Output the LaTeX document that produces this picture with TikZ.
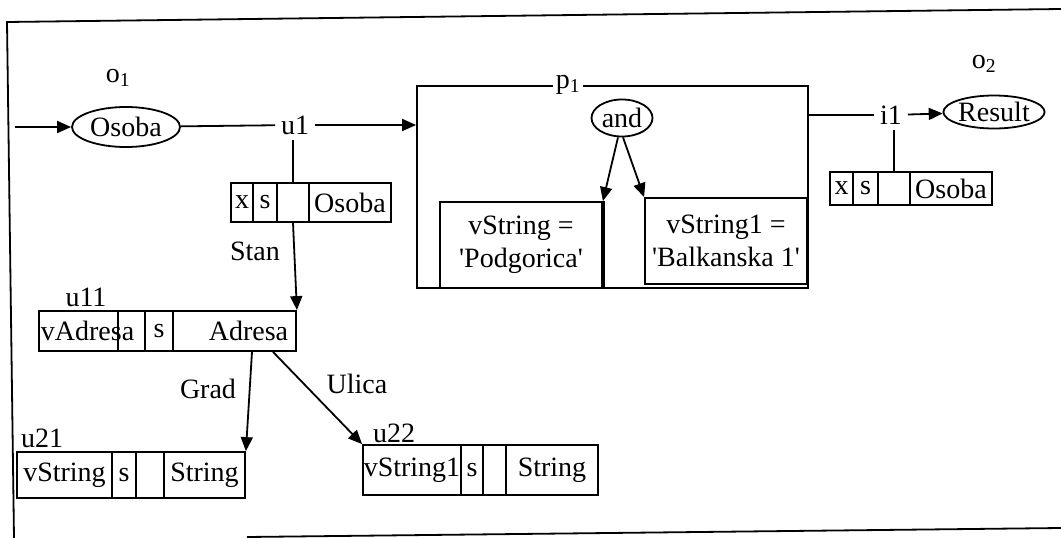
\documentclass[tikz,border=0pt]{standalone}
\usepackage{fontspec}
\setmainfont{Liberation Serif}
\usetikzlibrary{arrows.meta,shapes.geometric}
\begin{document}
\begin{tikzpicture}[x=1pt,y=-1pt,line width=1.8pt,
  font=\fontsize{28}{33}\selectfont,
  arr/.style={-{Triangle[length=14pt,width=12pt]}},
  cell/.style={draw,rectangle,inner sep=0pt},
  oval/.style={draw,ellipse,inner sep=0pt},
  lbl/.style={inner sep=3pt}]
\useasboundingbox (0,0) rectangle (1061,538);
% frame of the scan
\coordinate (fTL) at (7,22);
\coordinate (fTR) at (1061,9);
\coordinate (fBL) at (14,538);
\coordinate (fB1) at (247,537);
\coordinate (fB2) at (1061,528);
\draw (fTR) -- (fTL) -- (fBL);
\draw (fB1) -- (fB2);

% o1 and input
\node[lbl] (o1l) at (118,78) {o\textsubscript{1}};
\node[oval, minimum width=108, minimum height=40] (osoba) at (126,127) {Osoba};
\coordinate (in) at (15,127);
\draw[arr] (in) -- (osoba);
\node[lbl, inner sep=5pt] (u1l) at (295,125) {u1};
\draw (osoba) -- (u1l);

% p1
\node[cell, minimum width=391, minimum height=202] (p1) at (612.5,187) {};
\draw[arr] (u1l) -- (u1l -| p1.west);
\node[fill=white, inner sep=3pt] (p1l) at (568,85) {p\textsubscript{1}};
\node[oval, minimum width=61, minimum height=37] (andop) at (622,118) {and};
\node[cell, minimum width=162, minimum height=86, align=center] (b1) at (521,245)
  {vString =\\\textquotesingle Podgorica\textquotesingle};
\draw[line width=3.2pt] (b1.north east) -- (b1.south east);
\node[cell, minimum width=162, minimum height=86, align=center] (b2) at (726,241)
  {vString1 =\\\textquotesingle Balkanska 1\textquotesingle};
\draw[arr] ([xshift=-4pt]andop.south) -- (b1.north east);
\draw[arr] ([xshift=1pt]andop.south) -- (b2.north west);

% i1 and result
\node[lbl, inner sep=5pt] (i1l) at (891,115) {i1};
\draw (p1.east |- i1l) -- (i1l);
\node[oval, minimum width=98, minimum height=33] (res) at (994,112) {Result};
\draw[arr] (i1l) -- (res);
\node[lbl] (o2l) at (984,64) {o\textsubscript{2}};

\node[cell, minimum width=23, minimum height=33] (i1x) at (841.5,188.5) {x};
\node[cell, minimum width=25, minimum height=33] (i1s) at (865.5,188.5) {s};
\node[cell, minimum width=32, minimum height=33] (i1e) at (894,188.5) {};
\node[cell, minimum width=82, minimum height=33] (i1t) at (951,188.5) {Osoba};
\draw (i1l.south -| i1e) -- (i1e.north);

% u1 record
\node[cell, minimum width=22, minimum height=39] (u1x) at (242,202.5) {x};
\node[cell, minimum width=24, minimum height=39] (u1s) at (265,202.5) {s};
\node[cell, minimum width=32, minimum height=39] (u1e) at (293,202.5) {};
\node[cell, minimum width=82, minimum height=39] (u1t) at (350,202.5) {Osoba};
\draw (u1l.south -| u1e) -- (u1e.north);
\node[lbl] (stan) at (255,251) {Stan};

% u11 record
\node[lbl] (u11l) at (86,297) {u11};
\node[cell, minimum width=79, minimum height=40] (u11a) at (78.5,331) {};
\node[cell, minimum width=27, minimum height=40] (u11b) at (131.5,331) {};
\node[cell, minimum width=28, minimum height=40] (u11s) at (159,331) {s};
\node[cell, minimum width=123, minimum height=40] (u11t) at (234.5,331) {};
\node[anchor=west, inner sep=0pt] (vadr) at (40,331) {vAdresa};
\node[anchor=east, inner sep=0pt] (adr) at (289,331) {Adresa};
\draw[arr] (u1e.south) -- (u11t.north east);

% u21 record
\node[lbl] (u21l) at (42,438) {u21};
\node[cell, minimum width=95, minimum height=46] (u21a) at (64.5,475) {vString};
\node[cell, minimum width=24, minimum height=46] (u21s) at (124,475) {s};
\node[cell, minimum width=28, minimum height=46] (u21e) at (150,475) {};
\node[cell, minimum width=81, minimum height=46] (u21t) at (204.5,475) {String};
\draw[arr] ([xshift=17.5pt]u11t.south) -- (u21t.north east);
\node[lbl] (grad) at (208,389) {Grad};

% u22 record
\node[lbl] (u22l) at (394,433) {u22};
\node[cell, minimum width=98, minimum height=50] (u22a) at (412,470) {vString1};
\node[cell, minimum width=22, minimum height=50] (u22s) at (472,470) {s};
\node[cell, minimum width=23, minimum height=50] (u22e) at (494.5,470) {};
\node[cell, minimum width=92, minimum height=50] (u22t) at (552,470) {String};
\draw[arr] ([xshift=38.5pt]u11t.south) -- (u22a.north west);
\node[lbl] (ulica) at (357,384) {Ulica};
\end{tikzpicture}
\end{document}
